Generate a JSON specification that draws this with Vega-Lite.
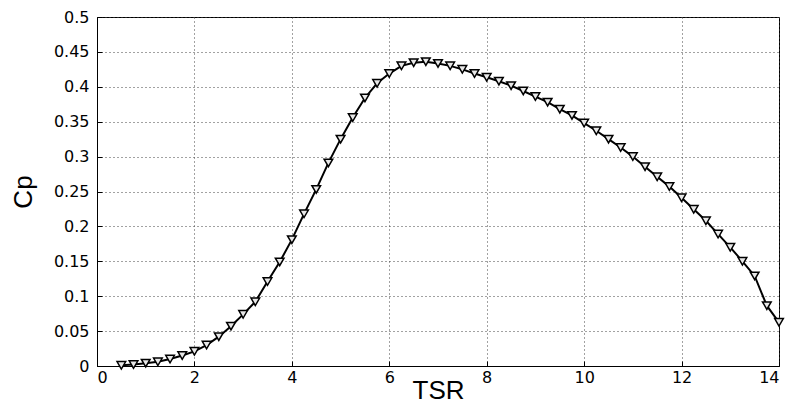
{
  "$schema": "https://vega.github.io/schema/vega-lite/v6.json",
  "width": 682,
  "height": 349,
  "autosize": {"type": "none"},
  "padding": {"left": 97, "top": 17, "right": 7, "bottom": 37},
  "background": "white",
  "config": {
    "view": {"stroke": "black", "strokeWidth": 1},
    "axis": {
      "domainColor": "black",
      "labelColor": "black",
      "labelFont": "DejaVu Sans",
      "labelFontSize": 16,
      "titleFont": "Liberation Sans",
      "titleFontWeight": "normal",
      "titleColor": "black",
      "tickColor": "black",
      "tickSize": -5,
      "gridColor": "#444",
      "gridDash": [1, 3],
      "gridWidth": 1,
      "gridOpacity": 1
    }
  },
  "data": {
    "values": [
      {"tsr": 0.5, "cp": 0.001},
      {"tsr": 0.75, "cp": 0.002},
      {"tsr": 1.0, "cp": 0.004},
      {"tsr": 1.25, "cp": 0.006},
      {"tsr": 1.5, "cp": 0.010},
      {"tsr": 1.75, "cp": 0.015},
      {"tsr": 2.0, "cp": 0.021},
      {"tsr": 2.25, "cp": 0.030},
      {"tsr": 2.5, "cp": 0.042},
      {"tsr": 2.75, "cp": 0.057},
      {"tsr": 3.0, "cp": 0.074},
      {"tsr": 3.25, "cp": 0.092},
      {"tsr": 3.5, "cp": 0.121},
      {"tsr": 3.75, "cp": 0.149},
      {"tsr": 4.0, "cp": 0.181},
      {"tsr": 4.25, "cp": 0.218},
      {"tsr": 4.5, "cp": 0.253},
      {"tsr": 4.75, "cp": 0.291},
      {"tsr": 5.0, "cp": 0.325},
      {"tsr": 5.25, "cp": 0.356},
      {"tsr": 5.5, "cp": 0.384},
      {"tsr": 5.75, "cp": 0.405},
      {"tsr": 6.0, "cp": 0.419},
      {"tsr": 6.25, "cp": 0.430},
      {"tsr": 6.5, "cp": 0.4345},
      {"tsr": 6.75, "cp": 0.436},
      {"tsr": 7.0, "cp": 0.4335},
      {"tsr": 7.25, "cp": 0.430},
      {"tsr": 7.5, "cp": 0.425},
      {"tsr": 7.75, "cp": 0.419},
      {"tsr": 8.0, "cp": 0.4136},
      {"tsr": 8.25, "cp": 0.408},
      {"tsr": 8.5, "cp": 0.4016},
      {"tsr": 8.75, "cp": 0.394},
      {"tsr": 9.0, "cp": 0.386},
      {"tsr": 9.25, "cp": 0.378},
      {"tsr": 9.5, "cp": 0.368},
      {"tsr": 9.75, "cp": 0.359},
      {"tsr": 10.0, "cp": 0.348},
      {"tsr": 10.25, "cp": 0.337},
      {"tsr": 10.5, "cp": 0.325},
      {"tsr": 10.75, "cp": 0.313},
      {"tsr": 11.0, "cp": 0.300},
      {"tsr": 11.25, "cp": 0.2855},
      {"tsr": 11.5, "cp": 0.271},
      {"tsr": 11.75, "cp": 0.257},
      {"tsr": 12.0, "cp": 0.241},
      {"tsr": 12.25, "cp": 0.2245},
      {"tsr": 12.5, "cp": 0.208},
      {"tsr": 12.75, "cp": 0.189},
      {"tsr": 13.0, "cp": 0.170},
      {"tsr": 13.25, "cp": 0.150},
      {"tsr": 13.5, "cp": 0.129},
      {"tsr": 13.75, "cp": 0.0864},
      {"tsr": 14.0, "cp": 0.0626}
    ]
  },
  "encoding": {
    "x": {
      "field": "tsr",
      "type": "quantitative",
      "scale": {"domain": [0, 14], "nice": false, "zero": false},
      "axis": {
        "values": [0, 2, 4, 6, 8, 10, 12, 14],
        "title": "TSR",
        "titleFontSize": 26,
        "titleBaseline": "middle",
        "titleY": 24,
        "labelPadding": 8,
        "grid": true
      }
    },
    "y": {
      "field": "cp",
      "type": "quantitative",
      "scale": {"domain": [0, 0.5], "nice": false},
      "axis": {
        "values": [0, 0.05, 0.1, 0.15, 0.2, 0.25, 0.3, 0.35, 0.4, 0.45, 0.5],
        "format": "~g",
        "title": "Cp",
        "titleFontSize": 26,
        "titleBaseline": "middle",
        "titleX": -74,
        "labelPadding": 13,
        "grid": true
      }
    }
  },
  "layer": [
    {"mark": {"type": "line", "color": "black", "strokeWidth": 2}},
    {
      "mark": {
        "type": "point",
        "shape": "triangle-down",
        "filled": true,
        "fill": "#e8e8e8",
        "stroke": "black",
        "strokeWidth": 1.5,
        "size": 75,
        "opacity": 1
      }
    }
  ]
}
